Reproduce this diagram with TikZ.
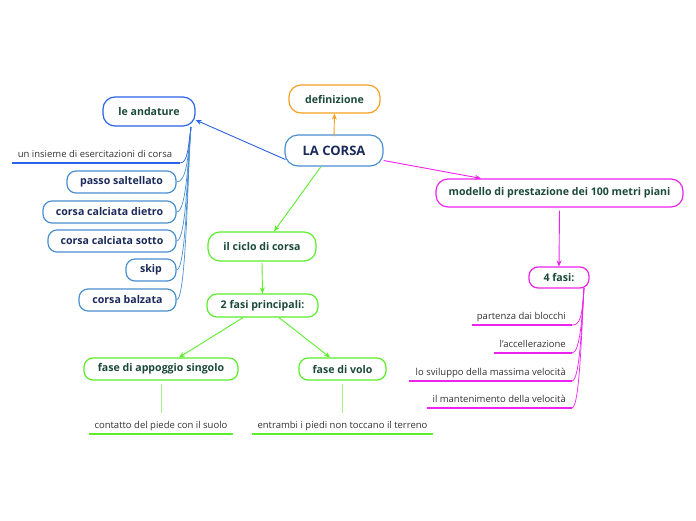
\documentclass[tikz,border=0pt]{standalone}
\usepackage{fontspec}
\setmainfont{Open Sans}
\usetikzlibrary{arrows.meta}
\definecolor{cblue}{HTML}{2A62E8}
\definecolor{lblue}{HTML}{4A90D0}
\definecolor{cgreen}{HTML}{5CEE2A}
\definecolor{lgreen}{HTML}{A8F088}
\definecolor{cmag}{HTML}{EE22EE}
\definecolor{corange}{HTML}{F5A020}
\definecolor{tgreen}{HTML}{1C4A3A}
\definecolor{tnavy}{HTML}{1A2A5A}
\definecolor{ttext}{HTML}{333333}
\tikzset{
  box/.style={draw, line width=1.2pt, rounded corners=10pt, inner sep=0pt, font=\fontsize{10.6}{12}\selectfont\bfseries, text=tgreen, fill=white},
  sbox/.style={draw=lblue, line width=1.2pt, rounded corners=9pt, inner sep=0pt, font=\fontsize{10.6}{12}\selectfont\bfseries, text=tnavy, fill=white},
  leaf/.style={inner sep=0pt, font=\fontsize{9.5}{11}\selectfont, text=ttext},
  uline/.style={line width=1.6pt},
  arr/.style={-{Stealth[length=6pt,width=5pt]}, line width=0.9pt},
  thin/.style={line width=0.7pt}
}
\begin{document}
\begin{tikzpicture}[x=1pt,y=-1pt]
\fill[white] (0,0) rectangle (696,520);
\useasboundingbox (0,0) rectangle (696,520);

% main nodes
\node[box, draw=lblue, text=tnavy, minimum width=98pt, minimum height=31pt, rounded corners=13pt, font=\fontsize{13}{15}\selectfont\bfseries] (corsa) at (334,150.5) {LA CORSA};
\node[box, draw=corange, minimum width=91pt, minimum height=28pt, rounded corners=12pt] (def) at (334.5,99) {definizione};
\node[box, draw=cblue, minimum width=92pt, minimum height=29pt, rounded corners=12pt] (and) at (149,111.5) {le andature};
\node[box, draw=cmag, minimum width=247pt, minimum height=28pt, rounded corners=12pt] (mod) at (559.5,193) {modello di prestazione dei 100 metri piani};
\node[box, draw=cmag, minimum width=60pt, minimum height=21pt, rounded corners=9pt] (f4) at (559,277.5) {4 fasi:};
\node[box, draw=cgreen, minimum width=108pt, minimum height=29pt, rounded corners=12pt] (ciclo) at (262,246.5) {il ciclo di corsa};
\node[box, draw=cgreen, minimum width=111pt, minimum height=23pt, rounded corners=10pt] (f2) at (262.5,305.5) {2 fasi principali:};
\node[box, draw=cgreen, minimum width=154pt, minimum height=22pt, rounded corners=9pt] (app) at (161,369) {fase di appoggio singolo};
\node[box, draw=cgreen, minimum width=87pt, minimum height=22pt, rounded corners=9pt] (volo) at (342.5,369) {fase di volo};

% left children
\node[sbox, minimum width=109pt, minimum height=22pt] (passo) at (121.5,182) {passo saltellato};
\node[sbox, minimum width=133pt, minimum height=22pt] (dietro) at (109.5,212) {corsa calciata dietro};
\node[sbox, minimum width=128pt, minimum height=22pt] (sotto) at (112,241) {corsa calciata sotto};
\node[sbox, minimum width=50pt, minimum height=22pt] (skip) at (151,270) {skip};
\node[sbox, minimum width=97pt, minimum height=22pt] (balz) at (127.5,300) {corsa balzata};

\node[leaf, anchor=base] (ins) at (95,157) {un insieme di esercitazioni di corsa};
\coordinate (insL) at (12,163);
\coordinate (insR) at (180,163);
\draw[cblue, uline] (insL) -- (insR);

\coordinate (andc) at (191,127);
\foreach \n in {passo,dietro,sotto,skip,balz}
  \draw[lblue, thin] (\n.east) .. controls +(10,0) and +(-3,30) .. (andc);
\draw[cblue, thin] (insR) .. controls +(8,0) and +(-3,20) .. (andc);

% right children
\node[leaf, anchor=base east] (p1) at (566,319) {partenza dai blocchi};
\node[leaf, anchor=base east] (p2) at (566,347) {l'accellerazione};
\node[leaf, anchor=base east] (p3) at (566,375) {lo sviluppo della massima velocità};
\node[leaf, anchor=base east] (p4) at (566,402) {il mantenimento della velocità};
\coordinate (p1L) at (472,325); \coordinate (p1R) at (572,325);
\coordinate (p2L) at (494,353); \coordinate (p2R) at (572,353);
\coordinate (p3L) at (409,381); \coordinate (p3R) at (572,381);
\coordinate (p4L) at (427,408); \coordinate (p4R) at (572,408);
\coordinate (f4c) at (584,288);
\foreach \n in {p1,p2,p3,p4}{
  \draw[cmag, uline] (\n L) -- (\n R);
  \draw[cmag, thin] (\n R) .. controls +(8,0) and +(-2,30) .. (f4c);
}

% bottom leaves
\node[leaf, anchor=base] (cont) at (161,428) {contatto del piede con il suolo};
\node[leaf, anchor=base] (entr) at (342.5,428) {entrambi i piedi non toccano il terreno};
\coordinate (contL) at (89,434); \coordinate (contR) at (233,434);
\coordinate (entrL) at (252,434); \coordinate (entrR) at (433,434);
\draw[cgreen, uline] (contL) -- (contR);
\draw[cgreen, uline] (entrL) -- (entrR);
\coordinate (contT) at (161,413);
\coordinate (entrT) at (342.5,413);
\draw[lgreen, thin] ([yshift=-3pt]app.south) -- (contT);
\draw[lgreen, thin] ([yshift=-3pt]volo.south) -- (entrT);

% edges
\draw[arr, cblue] ([xshift=1pt,yshift=-9pt]corsa.west) -- (and.east |- 0,120) ;
\draw[arr, corange] ([yshift=-2pt]corsa.north) -- (def.south);
\draw[arr, cmag] ([yshift=-10pt]corsa.east) -- (mod.north -| 481,0);
\draw[arr, cgreen] (corsa.south -| 321,0) -- (ciclo.north -| 274,0);
\draw[arr, cgreen] ([yshift=-1pt]ciclo.south) -- (f2.north);
\draw[arr, cgreen] (f2.south -| 243,0) -- (app.north -| 179,0);
\draw[arr, cgreen] (f2.south -| 279,0) -- (volo.north -| 330,0);
\draw[arr, cmag] ([yshift=-3pt]mod.south) -- (f4.north);
\end{tikzpicture}
\end{document}
